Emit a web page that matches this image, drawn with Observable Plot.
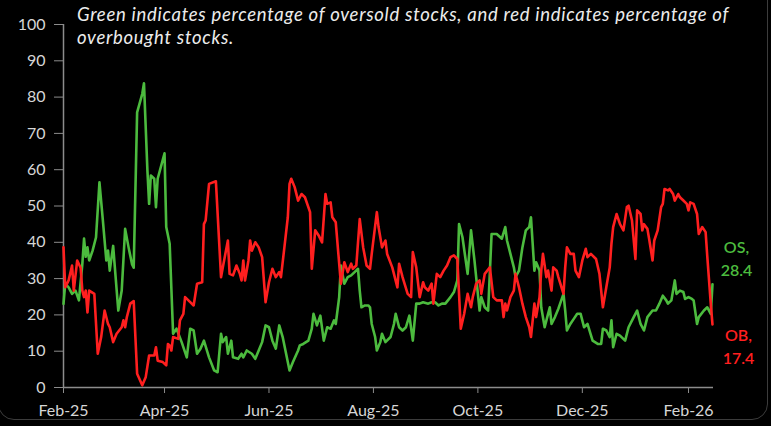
<!DOCTYPE html>
<html>
<head>
<meta charset="utf-8">
<script src="https://cdn.jsdelivr.net/npm/d3@7"></script>
<script src="https://cdn.jsdelivr.net/npm/@observablehq/plot@0.6"></script>
<style>
  html, body { margin: 0; padding: 0; background: #000; }
  #wrap { position: relative; width: 771px; height: 426px; overflow: hidden; background: #000; }
  #frame { position: absolute; left: -2px; top: -30px; width: 770px; height: 450px; border: 1.5px solid #3c3c3c; border-radius: 16px; box-sizing: border-box; }
  #title { position: absolute; left: 77px; top: 3px; font-family: Lato, "Open Sans", sans-serif; font-style: italic; font-size: 18.5px; letter-spacing: 0.72px; line-height: 23px; color: #ececec; white-space: nowrap; }
  #chart { position: absolute; left: 0; top: 0; }
</style>
</head>
<body>
<div id="wrap">
  <div id="frame"></div>
  <div id="chart"></div>
  <div id="title">Green indicates percentage of oversold stocks, and red indicates percentage of<br>overbought stocks.</div>
</div>
<script>
// Oversold (green) series
const osDates = ["2025-02-01","2025-02-02","2025-02-04","2025-02-06","2025-02-08","2025-02-10","2025-02-12","2025-02-13","2025-02-14","2025-02-15","2025-02-16","2025-02-18","2025-02-20","2025-02-22","2025-02-24","2025-02-26","2025-02-27","2025-02-28","2025-03-02","2025-03-03","2025-03-05","2025-03-07","2025-03-09","2025-03-11","2025-03-13","2025-03-14","2025-03-16","2025-03-19","2025-03-20","2025-03-22","2025-03-23","2025-03-24","2025-03-26","2025-03-27","2025-03-28","2025-04-01","2025-04-02","2025-04-04","2025-04-06","2025-04-08","2025-04-11","2025-04-14","2025-04-16","2025-04-18","2025-04-20","2025-04-22","2025-04-24","2025-04-27","2025-04-30","2025-05-02","2025-05-04","2025-05-05","2025-05-07","2025-05-08","2025-05-10","2025-05-11","2025-05-14","2025-05-16","2025-05-17","2025-05-19","2025-05-22","2025-05-24","2025-05-26","2025-05-28","2025-05-30","2025-06-01","2025-06-03","2025-06-05","2025-06-07","2025-06-09","2025-06-11","2025-06-13","2025-06-15","2025-06-18","2025-06-19","2025-06-21","2025-06-24","2025-06-26","2025-06-27","2025-06-29","2025-07-01","2025-07-03","2025-07-05","2025-07-07","2025-07-09","2025-07-10","2025-07-12","2025-07-13","2025-07-15","2025-07-17","2025-07-19","2025-07-21","2025-07-23","2025-07-24","2025-07-25","2025-07-27","2025-07-29","2025-07-30","2025-07-31","2025-08-02","2025-08-03","2025-08-05","2025-08-06","2025-08-08","2025-08-11","2025-08-13","2025-08-14","2025-08-16","2025-08-18","2025-08-20","2025-08-22","2025-08-24","2025-08-26","2025-08-28","2025-08-30","2025-09-02","2025-09-04","2025-09-06","2025-09-08","2025-09-10","2025-09-12","2025-09-15","2025-09-17","2025-09-19","2025-09-20","2025-09-22","2025-09-25","2025-09-27","2025-09-29","2025-09-30","2025-10-02","2025-10-03","2025-10-05","2025-10-07","2025-10-09","2025-10-12","2025-10-15","2025-10-17","2025-10-18","2025-10-20","2025-10-22","2025-10-23","2025-10-25","2025-10-27","2025-10-29","2025-10-31","2025-11-01","2025-11-02","2025-11-03","2025-11-04","2025-11-06","2025-11-07","2025-11-09","2025-11-11","2025-11-12","2025-11-13","2025-11-15","2025-11-17","2025-11-20","2025-11-21","2025-11-22","2025-11-24","2025-11-26","2025-11-28","2025-11-30","2025-12-02","2025-12-04","2025-12-07","2025-12-10","2025-12-12","2025-12-13","2025-12-15","2025-12-17","2025-12-18","2025-12-19","2025-12-21","2025-12-23","2025-12-26","2025-12-28","2025-12-31","2026-01-02","2026-01-04","2026-01-06","2026-01-08","2026-01-11","2026-01-13","2026-01-15","2026-01-17","2026-01-19","2026-01-20","2026-01-22","2026-01-24","2026-01-25","2026-01-27","2026-01-29","2026-01-30","2026-02-01","2026-02-03","2026-02-04","2026-02-06","2026-02-07","2026-02-10","2026-02-12","2026-02-14","2026-02-15"];
const osValues = [23.0,28.6,27.6,25.8,26.7,24.0,34.0,41.0,36.0,38.6,35.0,37.7,41.4,56.5,46.0,35.0,37.7,32.2,39.0,33.0,21.2,26.7,43.7,38.6,34.0,33.0,75.8,80.9,83.8,59.8,50.6,58.4,57.5,49.7,57.5,64.5,44.2,39.6,14.8,16.2,12.5,8.3,16.2,15.7,9.3,10.7,12.9,8.3,4.7,4.2,14.8,12.5,13.9,9.3,12.9,8.3,7.9,9.3,8.3,10.2,9.3,7.9,10.2,12.5,17.1,16.6,12.9,10.7,17.1,13.9,9.3,4.7,7.0,10.2,11.6,12.0,12.9,16.2,20.3,17.1,19.8,12.9,16.6,16.2,18.5,17.5,24.9,33.6,28.6,30.4,30.9,31.8,32.7,26.7,22.1,22.6,22.6,22.1,17.5,13.9,10.2,12.5,14.8,12.5,13.9,17.5,20.3,16.6,15.7,16.6,19.8,12.9,23.1,23.1,23.5,23.1,23.5,23.5,22.6,23.1,23.1,24.9,26.3,29.5,45.0,41.4,31.3,43.3,35.0,30.4,21.2,24.9,22.1,21.2,42.3,42.3,41.0,44.2,40.5,36.8,33.1,30.4,32.2,38.6,43.3,44.2,46.9,39.6,32.2,34.5,32.2,22.1,16.6,20.3,22.1,17.5,19.4,21.7,25.8,21.2,15.7,17.5,18.9,20.3,20.3,16.6,17.5,12.9,12.0,12.0,16.2,15.7,13.9,18.5,11.1,14.8,14.3,12.9,16.6,19.4,21.2,17.5,15.7,19.4,21.2,21.2,23.1,25.3,24.0,23.1,24.0,29.5,25.8,26.7,26.3,24.4,24.9,24.4,24.0,17.5,19.4,21.2,22.1,20.3,28.4];

// Overbought (red) series
const obDates = ["2025-02-01","2025-02-02","2025-02-04","2025-02-06","2025-02-07","2025-02-09","2025-02-11","2025-02-12","2025-02-13","2025-02-14","2025-02-15","2025-02-16","2025-02-19","2025-02-21","2025-02-23","2025-02-25","2025-02-27","2025-02-28","2025-03-02","2025-03-04","2025-03-07","2025-03-08","2025-03-09","2025-03-10","2025-03-12","2025-03-14","2025-03-16","2025-03-19","2025-03-21","2025-03-23","2025-03-26","2025-03-27","2025-03-28","2025-03-31","2025-04-02","2025-04-03","2025-04-04","2025-04-05","2025-04-06","2025-04-09","2025-04-10","2025-04-12","2025-04-13","2025-04-16","2025-04-18","2025-04-20","2025-04-23","2025-04-24","2025-04-25","2025-04-27","2025-05-01","2025-05-04","2025-05-05","2025-05-08","2025-05-09","2025-05-11","2025-05-13","2025-05-15","2025-05-16","2025-05-17","2025-05-18","2025-05-20","2025-05-21","2025-05-22","2025-05-24","2025-05-26","2025-05-28","2025-05-30","2025-06-01","2025-06-03","2025-06-05","2025-06-07","2025-06-08","2025-06-10","2025-06-12","2025-06-13","2025-06-14","2025-06-16","2025-06-18","2025-06-20","2025-06-22","2025-06-25","2025-06-26","2025-06-28","2025-06-30","2025-07-02","2025-07-04","2025-07-05","2025-07-07","2025-07-08","2025-07-10","2025-07-12","2025-07-13","2025-07-15","2025-07-17","2025-07-19","2025-07-20","2025-07-22","2025-07-24","2025-07-26","2025-07-28","2025-07-30","2025-07-31","2025-08-03","2025-08-04","2025-08-06","2025-08-08","2025-08-09","2025-08-12","2025-08-15","2025-08-16","2025-08-18","2025-08-21","2025-08-23","2025-08-24","2025-08-26","2025-08-28","2025-08-30","2025-08-31","2025-09-02","2025-09-04","2025-09-05","2025-09-07","2025-09-09","2025-09-11","2025-09-13","2025-09-15","2025-09-17","2025-09-19","2025-09-20","2025-09-21","2025-09-23","2025-09-25","2025-09-27","2025-09-28","2025-09-30","2025-10-02","2025-10-03","2025-10-05","2025-10-08","2025-10-10","2025-10-12","2025-10-15","2025-10-16","2025-10-17","2025-10-18","2025-10-20","2025-10-22","2025-10-23","2025-10-25","2025-10-27","2025-10-29","2025-10-31","2025-11-01","2025-11-03","2025-11-04","2025-11-06","2025-11-07","2025-11-08","2025-11-10","2025-11-11","2025-11-13","2025-11-14","2025-11-16","2025-11-17","2025-11-20","2025-11-21","2025-11-22","2025-11-24","2025-11-26","2025-11-27","2025-11-29","2025-12-01","2025-12-03","2025-12-04","2025-12-06","2025-12-09","2025-12-11","2025-12-13","2025-12-15","2025-12-17","2025-12-18","2025-12-19","2025-12-21","2025-12-23","2025-12-25","2025-12-27","2025-12-28","2025-12-30","2026-01-01","2026-01-02","2026-01-04","2026-01-05","2026-01-06","2026-01-08","2026-01-09","2026-01-11","2026-01-12","2026-01-14","2026-01-16","2026-01-17","2026-01-18","2026-01-20","2026-01-21","2026-01-23","2026-01-24","2026-01-26","2026-01-27","2026-01-29","2026-01-31","2026-02-01","2026-02-02","2026-02-04","2026-02-06","2026-02-07","2026-02-09","2026-02-11","2026-02-12","2026-02-13","2026-02-14","2026-02-15"];
const obValues = [38.6,27.6,29.5,33.6,26.7,35.0,33.0,26.7,24.9,26.7,20.7,26.7,25.8,9.3,13.9,21.2,17.5,16.6,12.5,14.8,16.6,18.5,16.6,19.4,23.1,23.8,3.8,0.6,2.8,8.8,8.8,11.1,7.4,7.0,6.1,12.0,11.6,10.2,13.9,13.4,18.5,20.3,24.9,23.5,22.6,28.6,29.0,45.0,46.0,56.1,56.8,30.4,33.0,40.5,31.3,30.9,33.6,31.3,29.5,35.0,29.5,35.0,40.5,37.7,40.0,38.6,35.9,23.5,29.0,32.7,30.4,31.8,30.4,38.6,46.9,56.1,57.5,55.2,51.5,53.3,52.4,48.3,32.7,43.3,41.9,40.0,53.3,50.6,51.0,46.9,45.5,34.1,28.6,34.5,31.8,34.1,32.7,33.6,46.4,38.6,33.6,32.7,36.8,48.3,44.2,38.6,40.5,36.8,33.1,27.6,34.1,30.4,25.8,24.9,37.3,33.1,24.9,29.0,27.6,26.7,28.6,23.1,31.3,30.4,32.2,33.6,35.9,36.4,35.4,25.8,16.2,20.3,25.8,22.1,24.9,28.6,29.5,25.8,31.3,33.1,24.9,24.0,24.0,19.4,23.1,21.2,24.9,26.7,31.3,27.6,23.1,19.4,16.6,13.9,23.1,19.4,24.9,32.2,36.8,30.4,32.2,26.7,33.1,32.2,30.4,25.8,33.1,38.6,36.8,36.8,32.2,30.4,35.0,38.2,35.9,36.8,35.4,31.3,22.1,27.6,33.1,39.6,44.2,47.8,45.0,43.3,49.7,50.1,46.0,35.4,48.8,47.8,43.3,45.0,43.7,41.0,35.0,40.5,43.3,49.7,50.6,54.7,54.3,54.7,53.3,51.5,53.3,52.4,51.5,50.6,48.8,51.0,50.6,47.8,42.3,44.2,42.8,35.9,29.5,23.1,17.4];

const yTicks = [0,10,20,30,40,50,60,70,80,90,100];
const xTickDates = ["2025-02-01","2025-04-01","2025-06-01","2025-08-01","2025-10-01","2025-12-01","2026-02-01"];
const xTickLabels = ["Feb-25","Apr-25","Jun-25","Aug-25","Oct-25","Dec-25","Feb-26"];
const xStart = "2025-02-01";
const xEnd = "2026-02-15T14:24Z";

const GREEN = "#4cbb3e";
const RED = "#ff1f1f";
const AXIS = "#8c8c8c";

const os = osDates.map((d, i) => ({date: new Date(d), v: osValues[i]}));
const ob = obDates.map((d, i) => ({date: new Date(d), v: obValues[i]}));
const xTicks = xTickDates.map(d => new Date(d));
const labelOf = new Map(xTicks.map((d, i) => [+d, xTickLabels[i]]));

const osEnd = [{date: os[os.length - 1].date, v: os[os.length - 1].v, label: `OS,\n${os[os.length - 1].v}`}];
const obEnd = [{date: ob[ob.length - 1].date, v: ob[ob.length - 1].v, label: `OB,\n${ob[ob.length - 1].v}`}];

const chart = Plot.plot({
  width: 771,
  height: 426,
  marginLeft: 63,
  marginRight: 58,
  marginTop: 24,
  marginBottom: 39,
  style: {background: "transparent", color: "#d6d6d6", fontFamily: "Lato, 'Open Sans', sans-serif", fontSize: "16px", overflow: "visible"},
  x: {type: "utc", domain: [new Date(xStart), new Date(xEnd)]},
  y: {domain: [0, 100]},
  marks: [
    Plot.axisY({ticks: yTicks, tickSize: 9, tickPadding: 9, stroke: AXIS, fill: "#d6d6d6", label: null, fontSize: 16}),
    Plot.axisX({ticks: xTicks, tickFormat: d => labelOf.get(+d), tickSize: 6, tickPadding: 11, stroke: AXIS, fill: "#d6d6d6", label: null, fontSize: 16}),
    Plot.ruleY([0], {stroke: AXIS, strokeWidth: 1.5}),
    Plot.ruleX([new Date(xStart)], {stroke: AXIS, strokeWidth: 1.5}),
    Plot.lineY(os, {x: "date", y: "v", stroke: GREEN, strokeWidth: 2.6, strokeLinejoin: "round"}),
    Plot.lineY(ob, {x: "date", y: "v", stroke: RED, strokeWidth: 2.6, strokeLinejoin: "round"}),
    Plot.text(osEnd, {x: "date", y: "v", text: "label", fill: GREEN, dx: 24, dy: -27, fontSize: 16, fontWeight: 600, lineHeight: 1.45, textAnchor: "middle"}),
    Plot.text(obEnd, {x: "date", y: "v", text: "label", fill: RED, dx: 26, dy: 21, fontSize: 16, fontWeight: 600, lineHeight: 1.45, textAnchor: "middle"})
  ]
});
document.getElementById("chart").appendChild(chart);
</script>
</body>
</html>
